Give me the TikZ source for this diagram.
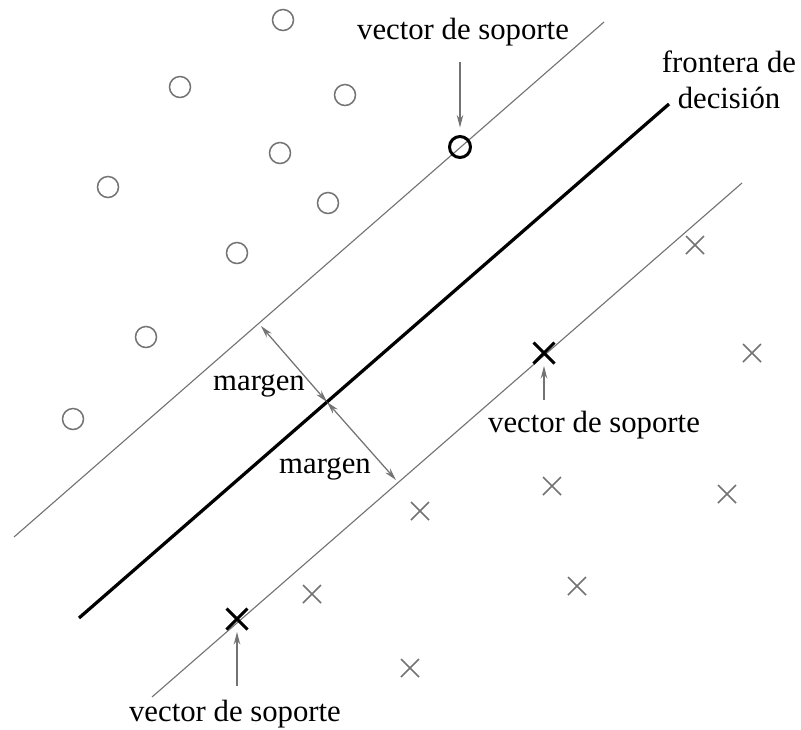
\documentclass[tikz,border=0pt]{standalone}
\usepackage{fontspec}
\setmainfont{Liberation Serif}
\usetikzlibrary{shapes.misc,arrows.meta}
\begin{document}
\begin{tikzpicture}[x=0.4pt,y=-0.4pt,font=\fontsize{12.3}{14.5}\selectfont,
  clase1/.style={circle,draw=black!55,line width=0.6pt,minimum size=8.4pt,inner sep=0pt},
  clase2/.style={cross out,draw=black!55,line width=0.6pt,minimum size=6.6pt,inner sep=0pt},
  soporte/.style={line width=1.2pt,draw=black},
  flecha/.style={draw=black!55,line width=0.5pt,-{Stealth[length=5pt,width=2.6pt]}},
  margen/.style={draw=black!55,line width=0.5pt,{Stealth[length=5pt,width=2.6pt]}-{Stealth[length=5pt,width=2.6pt]}}]
  \useasboundingbox (0,0) rectangle (801,729);
  % rectas
  \coordinate (a1) at (14,537);  \coordinate (a2) at (604,22);
  \coordinate (d1) at (79,618);  \coordinate (d2) at (669,104);
  \coordinate (b1) at (152,697); \coordinate (b2) at (742,183);
  \draw[black!55,line width=0.45pt] (a1) -- (a2);
  \draw[line width=1.3pt] (d1) -- (d2);
  \draw[black!55,line width=0.45pt] (b1) -- (b2);
  % puntos de las dos clases
  \foreach \p in {(283,20),(180,87),(345,95),(280,153),(108,187),(328,203),(237,253),(146,337),(73,419)}
    \node[clase1] at \p {};
  \foreach \p in {(695,245),(752,353),(552,486),(727,494),(420,511),(312,594),(577,586),(410,668)}
    \node[clase2] at \p {};
  % vectores de soporte
  \node[clase1,soporte] (sv1) at (460,147) {};
  \node[clase2,soporte,minimum size=7.2pt] (sv2) at (544,353) {};
  \node[clase2,soporte,minimum size=7.2pt] (sv3) at (237,619) {};
  % etiquetas
  \node (lab1) at (463,32) {vector de soporte};
  \node (lab2) at (594,425) {vector de soporte};
  \node (lab3) at (235,714) {vector de soporte};
  \node[align=center,inner sep=1pt] (front) at (729,80) {frontera de\\decisi\'on};
  \draw[flecha,shorten <=3pt,shorten >=3pt] (lab1.south -| sv1) -- (sv1);
  \draw[flecha,shorten <=1pt,shorten >=1pt] (lab2.north -| sv2) -- (sv2);
  \draw[flecha,shorten <=2pt,shorten >=1pt] (lab3.north -| sv3) -- (sv3);
  % margenes
  \coordinate (m0) at (327,402);
  \coordinate (m1) at (261,326);
  \coordinate (m2) at (396,480);
  \draw[margen] (m1) -- (m0);
  \draw[margen] (m0) -- (m2);
  \node (mar1) at (259,386) {margen};
  \node (mar2) at (325,469) {margen};
\end{tikzpicture}
\end{document}
